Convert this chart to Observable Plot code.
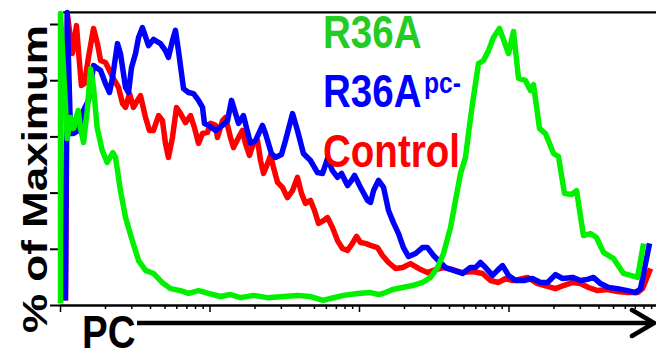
<!DOCTYPE html>
<html>
<head>
<meta charset="utf-8">
<script src="https://cdn.jsdelivr.net/npm/d3@7"></script>
<script src="https://cdn.jsdelivr.net/npm/@observablehq/plot@0.6"></script>
<style>
  html, body { margin: 0; padding: 0; background: #fff; }
  #chart svg { display: block; }
</style>
</head>
<body>
<div id="chart"></div>
<script>
// x positions are in decades (log10 of PC intensity), y in % of maximum
const redLog = [0.033,0.047,0.080,0.107,0.120,0.140,0.161,0.187,0.221,0.247,0.268,0.301,0.334,0.361,0.388,0.415,0.435,0.462,0.488,0.515,0.535,0.569,0.595,0.622,0.656,0.682,0.702,0.722,0.749,0.776,0.803,0.836,0.870,0.896,0.923,0.950,0.983,1.003,1.037,1.050,1.084,1.104,1.137,1.157,1.191,1.217,1.237,1.264,1.291,1.318,1.338,1.358,1.385,1.405,1.425,1.452,1.485,1.518,1.552,1.585,1.612,1.639,1.672,1.699,1.726,1.759,1.786,1.819,1.853,1.886,1.920,1.953,1.980,2.007,2.040,2.074,2.120,2.154,2.194,2.241,2.288,2.341,2.395,2.455,2.508,2.562,2.622,2.689,2.756,2.823,2.876,2.930,2.977,3.023,3.064,3.124,3.191,3.258,3.311,3.365,3.425,3.478,3.532,3.592,3.659,3.726,3.793,3.860,3.893,3.947];
const redPct = [1.8,103.2,89.7,99.6,90.7,78.3,79.0,88.3,98.6,93.2,87.2,86.5,82.9,80.1,77.6,71.9,70.5,75.4,70.5,73.0,74.7,66.9,62.3,62.3,67.6,65.8,57.7,52.7,59.8,70.5,68.3,65.1,67.6,63.3,57.7,61.2,61.6,64.8,64.1,59.8,65.8,66.9,59.8,56.2,59.8,62.3,57.7,53.4,57.7,58.7,51.6,47.0,50.5,53.4,49.1,43.8,42.0,38.4,40.9,45.6,39.9,36.3,37.4,33.8,29.2,30.2,31.3,27.8,23.1,20.3,19.6,22.1,24.6,22.4,22.1,21.4,20.6,17.8,15.3,13.2,13.5,14.9,13.2,11.7,12.8,13.5,12.8,11.7,12.1,11.4,8.9,8.2,9.6,8.9,9.3,10.0,7.8,6.8,6.0,7.1,8.2,7.8,6.4,5.3,5.7,5.0,4.6,4.6,6.0,13.2];

const blueLog = [0.033,0.045,0.067,0.087,0.120,0.154,0.187,0.221,0.268,0.301,0.328,0.348,0.381,0.401,0.435,0.455,0.475,0.502,0.522,0.548,0.589,0.622,0.669,0.702,0.722,0.749,0.769,0.789,0.823,0.856,0.890,0.923,0.950,0.963,0.990,1.037,1.084,1.117,1.144,1.171,1.191,1.224,1.244,1.271,1.304,1.351,1.371,1.411,1.438,1.478,1.505,1.552,1.585,1.625,1.672,1.719,1.753,1.786,1.819,1.853,1.880,1.920,1.946,1.967,2.007,2.054,2.074,2.094,2.127,2.161,2.194,2.227,2.261,2.294,2.328,2.375,2.421,2.455,2.495,2.528,2.575,2.629,2.689,2.742,2.776,2.809,2.843,2.890,2.923,2.957,2.997,3.043,3.097,3.157,3.211,3.258,3.311,3.358,3.425,3.478,3.525,3.565,3.612,3.666,3.726,3.793,3.846,3.880,3.900,3.940];
const bluePct = [1.8,104.3,61.2,61.2,62.3,69.4,73.0,85.4,83.6,79.0,75.8,81.1,93.2,89.7,77.6,75.8,84.7,89.7,95.4,98.9,92.5,94.7,93.2,90.7,88.3,94.3,97.9,90.7,77.2,75.8,75.4,73.0,70.5,64.8,64.1,62.3,64.1,65.8,73.0,68.3,64.8,67.6,63.3,57.7,58.7,64.1,61.2,54.1,52.7,53.7,58.7,68.3,62.3,54.1,51.6,47.3,47.0,52.3,48.0,45.6,47.0,42.7,44.5,46.3,42.0,37.4,36.7,40.9,44.5,42.0,33.8,29.5,25.6,20.6,17.4,18.5,20.6,20.6,17.8,16.0,13.5,12.5,11.4,13.5,13.5,15.3,13.5,10.7,12.5,14.2,10.7,8.9,8.9,9.6,8.2,8.2,11.0,9.6,10.0,8.9,9.3,10.0,7.8,6.4,6.0,5.3,4.6,6.0,11.4,22.1];

const greenLog = [0.000,0.000,0.045,0.067,0.087,0.118,0.134,0.154,0.179,0.201,0.221,0.245,0.279,0.312,0.350,0.368,0.401,0.435,0.480,0.522,0.569,0.622,0.680,0.736,0.803,0.856,0.923,0.990,1.070,1.137,1.204,1.291,1.385,1.492,1.585,1.672,1.759,1.806,1.893,1.987,2.074,2.127,2.174,2.221,2.288,2.355,2.421,2.475,2.522,2.562,2.609,2.642,2.676,2.709,2.729,2.756,2.776,2.796,2.829,2.863,2.896,2.936,2.997,3.030,3.064,3.110,3.144,3.164,3.204,3.244,3.298,3.331,3.371,3.418,3.452,3.498,3.545,3.585,3.632,3.699,3.766,3.860,3.900];
const greenPct = [0.7,103.9,59.4,66.9,63.0,69.4,63.0,58.0,69.4,84.3,77.6,63.3,55.2,50.9,54.4,52.7,40.9,31.3,23.1,16.0,12.5,11.4,8.2,6.0,5.3,4.3,5.3,4.3,3.2,3.9,2.8,3.6,2.8,3.2,3.6,3.2,1.8,2.5,3.6,4.3,4.6,3.9,4.6,5.7,6.4,7.1,8.2,10.0,13.5,18.5,27.8,37.4,47.0,52.7,61.2,71.9,79.0,86.1,87.2,90.7,95.4,98.6,89.7,97.5,80.8,80.1,76.5,78.6,63.0,61.2,54.1,53.0,39.9,39.5,40.9,24.9,25.6,24.2,18.9,16.7,11.4,10.0,22.1];

const seriesNames = ["Control", "R36Apc-", "R36A"];
const seriesColors = ["#ff0000", "#0000ff", "#00f000"];
const yTicks = [0, 20, 40, 60, 80, 100];
const xMajorTicks = [1, 10, 100, 1000, 10000];
const xMinorTicks = [2,3,4,5,6,7,8,9,20,30,40,50,60,70,80,90,200,300,400,500,600,700,800,900,2000,3000,4000,5000,6000,7000,8000,9000];
const topValue = 104.3;

const toRows = (logs, pcts, name) => logs.map((d, i) => ({pc: Math.pow(10, d), pct: pcts[i], series: name}));
const red = toRows(redLog, redPct, seriesNames[0]);
const blue = toRows(blueLog, bluePct, seriesNames[1]);
const green = toRows(greenLog, greenPct, seriesNames[2]);

const lineOpts = {x: "pc", y: "pct", strokeWidth: 5.5, strokeLinejoin: "round", strokeLinecap: "butt"};

const plot = Plot.plot({
  width: 656,
  height: 352,
  marginLeft: 60,
  marginRight: 0,
  marginTop: 12,
  marginBottom: 47,
  style: {background: "#fff", overflow: "visible"},
  x: {type: "log", domain: [1, 10000], range: [60, 658]},
  y: {domain: [0, 100], range: [305, 24]},
  marks: [
    Plot.ruleY([topValue], {stroke: "#000", strokeWidth: 2.2, x1: 1.05, x2: 10000}),
    Plot.axisY({ticks: yTicks, tickSize: 10, tickFormat: () => "", label: null, stroke: "#000", strokeWidth: 2, strokeOpacity: 1}),
    Plot.axisX({ticks: xMajorTicks, tickSize: 7, tickFormat: () => "", label: null, stroke: "#000", strokeWidth: 1.5, strokeOpacity: 1}),
    Plot.axisX({ticks: xMinorTicks, tickSize: 4, tickFormat: () => "", label: null, stroke: "#000", strokeWidth: 1.5, strokeOpacity: 1}),
    Plot.line(red, {...lineOpts, stroke: seriesColors[0]}),
    Plot.line(blue, {...lineOpts, stroke: seriesColors[1]}),
    Plot.line(green, {...lineOpts, stroke: seriesColors[2]}),
    Plot.ruleY([0], {stroke: "#000", strokeWidth: 2.5})
  ]
});

document.getElementById("chart").appendChild(plot);

const svg = d3.select(plot);
const font = "'Liberation Sans', Arial, Helvetica, sans-serif";
const sx = 0.82;

// y-axis title
svg.append("text")
  .attr("transform", "translate(47,179) scale(0.8,1) rotate(-90)")
  .attr("text-anchor", "middle")
  .attr("font-family", font).attr("font-weight", "bold").attr("font-size", 44)
  .attr("fill", "#000")
  .text("% of Maximum");

// x-axis title and arrow
svg.append("text")
  .attr("transform", `translate(82,348) scale(${sx},1)`)
  .attr("text-anchor", "start")
  .attr("font-family", font).attr("font-weight", "bold").attr("font-size", 47)
  .attr("fill", "#000")
  .text("PC");
svg.append("line")
  .attr("x1", 137).attr("x2", 652).attr("y1", 323).attr("y2", 323)
  .attr("stroke", "#000").attr("stroke-width", 4.5);
svg.append("polyline")
  .attr("points", "632,310 654,323 632,336")
  .attr("fill", "none").attr("stroke", "#000").attr("stroke-width", 4.5)
  .attr("stroke-linecap", "round").attr("stroke-linejoin", "miter");

// legend labels
const legendColors = ["#22cc22", "#0000ff", "#ff0000"];
svg.append("text")
  .attr("transform", `translate(323,48) scale(${sx},1)`)
  .attr("text-anchor", "start")
  .attr("font-family", font).attr("font-weight", "bold").attr("font-size", 47)
  .attr("fill", legendColors[0]).text("R36A");
const l2 = svg.append("text")
  .attr("transform", `translate(323,107) scale(${sx},1)`)
  .attr("text-anchor", "start")
  .attr("font-family", font).attr("font-weight", "bold").attr("font-size", 47)
  .attr("fill", legendColors[1]);
l2.append("tspan").text("R36A");
l2.append("tspan").attr("font-size", 30).attr("dx", 3).attr("dy", -14).text("pc-");
svg.append("text")
  .attr("transform", `translate(323,167) scale(${sx},1)`)
  .attr("text-anchor", "start")
  .attr("font-family", font).attr("font-weight", "bold").attr("font-size", 47)
  .attr("fill", legendColors[2]).text("Control");
</script>
</body>
</html>
